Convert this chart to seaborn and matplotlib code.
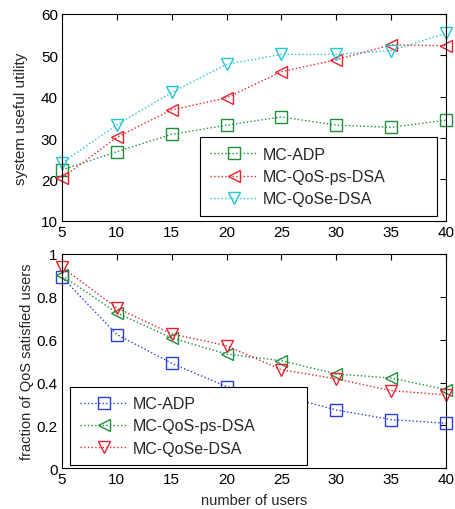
import matplotlib
matplotlib.use("Agg")
import matplotlib.pyplot as plt
import pandas as pd
import seaborn as sns

users = [5, 10, 15, 20, 25, 30, 35, 40]

# top panel: system useful utility
util_adp = [22.3, 26.7, 30.9, 33.1, 35.1, 33.1, 32.6, 34.3]
util_qos_ps = [20.3, 30.2, 36.8, 39.7, 46.0, 48.9, 52.5, 52.3]
util_qose = [24.0, 33.2, 41.0, 47.8, 50.2, 50.2, 51.1, 55.3]

# bottom panel: fraction of QoS satisfied users
frac_adp = [0.891, 0.624, 0.490, 0.381, 0.339, 0.272, 0.227, 0.210]
frac_qos_ps = [0.900, 0.725, 0.608, 0.533, 0.502, 0.440, 0.421, 0.367]
frac_qose = [0.938, 0.748, 0.627, 0.572, 0.460, 0.417, 0.362, 0.342]

labels = ["MC-ADP", "MC-QoS-ps-DSA", "MC-QoSe-DSA"]

GREEN = "#1f8f3a"
RED = "#e8232e"
CYAN = "#22c6d2"
BLUE = "#2a3fd6"

sns.set_style("white")
plt.rcParams["font.family"] = ["Liberation Sans", "DejaVu Sans"]

fig = plt.figure(figsize=(4.56, 5.10), dpi=100)
ax1 = fig.add_axes([0.136, 0.565, 0.842, 0.406])
ax2 = fig.add_axes([0.136, 0.080, 0.842, 0.420])


def draw(ax, values, colors, markers):
    for vals, col, mk, lab in zip(values, colors, markers, labels):
        df = pd.DataFrame({"users": users, "v": vals})
        sns.lineplot(data=df, x="users", y="v", ax=ax, color=col, linestyle=":",
                     linewidth=1.0, marker=mk, markersize=8, markerfacecolor="none",
                     markeredgecolor=col, markeredgewidth=1.0, label=lab,
                     clip_on=False)


draw(ax1, [util_adp, util_qos_ps, util_qose], [GREEN, RED, CYAN], ["s", "<", "v"])
draw(ax2, [frac_adp, frac_qos_ps, frac_qose], [BLUE, GREEN, RED], ["s", "<", "v"])

for ax in (ax1, ax2):
    ax.set_xlim(5, 40)
    ax.set_xticks(users)
    ax.tick_params(direction="in", top=True, right=True, length=4, width=0.8,
                   labelsize=11, colors="black", pad=3)
    for sp in ax.spines.values():
        sp.set_color("black")
        sp.set_linewidth(0.8)

ax1.set_ylim(10, 60)
ax1.set_yticks([10, 20, 30, 40, 50, 60])
ax1.set_xlabel("")
ax1.set_ylabel("system useful utility", fontsize=11, labelpad=9)

ax2.set_ylim(0, 1)
ax2.set_yticks([0, 0.2, 0.4, 0.6, 0.8, 1])
ax2.set_yticklabels(["0", "0.2", "0.4", "0.6", "0.8", "1"])
ax2.set_xlabel("number of users", fontsize=10.5, labelpad=5)
ax2.set_ylabel("fraction of QoS satisfied users", fontsize=10.5, labelpad=2)

leg_kw = dict(mode="expand", fancybox=False, edgecolor="black", framealpha=1,
              fontsize=11.5, borderaxespad=0, handlelength=3.0, labelspacing=0.45,
              borderpad=0.6, handletextpad=0.3)
l1 = ax1.legend(loc="lower left", bbox_to_anchor=(0.36, 0.024, 0.617, 0.348), **leg_kw)
l2 = ax2.legend(loc="lower left", bbox_to_anchor=(0.021, 0.014, 0.617, 0.332), **leg_kw)
for leg in (l1, l2):
    leg.get_frame().set_linewidth(0.8)

fig.savefig("out.png", dpi=100)
